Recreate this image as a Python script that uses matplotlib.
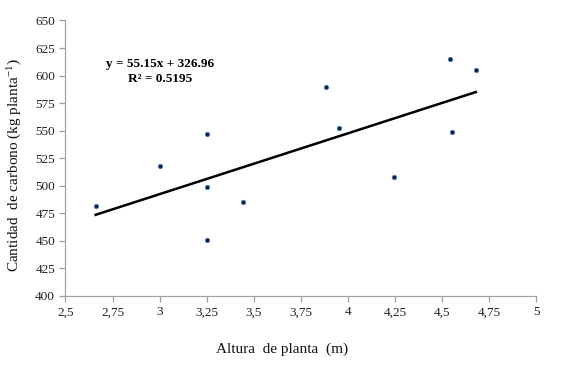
import matplotlib
matplotlib.use("Agg")
import matplotlib.pyplot as plt
import numpy as np
from matplotlib.ticker import FuncFormatter

altura = [2.66, 3.00, 3.25, 3.25, 3.25, 3.445, 3.885, 3.955, 4.245, 4.545, 4.555, 4.68]
carbono = [482, 518, 547, 499, 451, 485.5, 590, 552.5, 508, 615, 549, 605]
slope = 55.15
intercept = 326.96
r2 = 0.5195
xticks = [2.5, 2.75, 3, 3.25, 3.5, 3.75, 4, 4.25, 4.5, 4.75, 5]
yticks = [400, 425, 450, 475, 500, 525, 550, 575, 600, 625, 650]

plt.rcParams['font.family'] = ['Liberation Serif', 'DejaVu Serif']
plt.rcParams['mathtext.fontset'] = 'custom'
plt.rcParams['mathtext.rm'] = 'Liberation Serif'
plt.rcParams['mathtext.it'] = 'Liberation Serif:italic'
plt.rcParams['mathtext.bf'] = 'Liberation Serif:bold'

fig = plt.figure(figsize=(5.82, 3.74), dpi=100)
ax = fig.add_axes([0.1125, 0.2086, 0.8085, 0.7366])

ax.scatter(altura, carbono, s=10, color='#0f1f3d', edgecolors='#4f81bd', linewidths=0.6, zorder=3)
xs = np.array([min(altura), max(altura)])
ax.plot(xs, slope * xs + intercept, color='black', lw=1.8, zorder=2)

ax.set_xlim(2.5, 5)
ax.set_ylim(400, 650)
ax.set_xticks(xticks)
ax.set_yticks(yticks)
ax.xaxis.set_major_formatter(FuncFormatter(lambda v, p: ('%g' % v).replace('.', ',')))
for s in ['top', 'right']:
    ax.spines[s].set_visible(False)
for s in ['left', 'bottom']:
    ax.spines[s].set_color('#a0a0a0')
    ax.spines[s].set_linewidth(0.9)
ax.tick_params(axis='both', colors='#a0a0a0', labelcolor='#222222', labelsize=9.5, length=4, width=0.9, direction='out')

ax.set_xlabel('Altura  de planta  (m)', fontsize=11, color='#111111')
ax.xaxis.set_label_coords(0.46, -0.17)
ax.set_ylabel('Cantidad  de carbono (kg planta$^{\\mathrm{-1}}$)', fontsize=11, color='#111111')
ax.yaxis.set_label_coords(-0.089, 0.475)

ax.text(0.201, 0.815, 'y = 55.15x + 326.96\nR² = 0.5195', transform=ax.transAxes,
        fontsize=9.5, fontweight='bold', ha='center', va='center', linespacing=1.3)

fig.savefig('out.png', dpi=100)
